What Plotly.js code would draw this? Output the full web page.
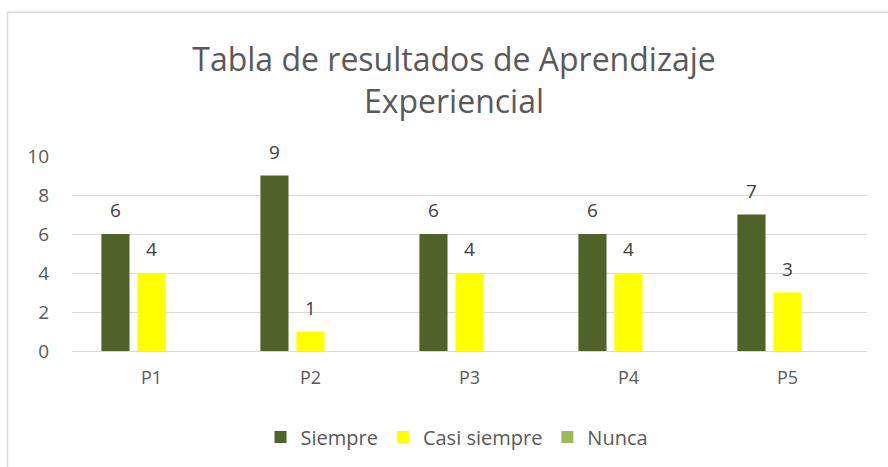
<!DOCTYPE html>
<html>
<head>
<meta charset="utf-8">
<script src="https://cdn.plot.ly/plotly-3.0.1.min.js"></script>
<style>
  html, body { margin: 0; padding: 0; background: #fff; }
  #chart { width: 888px; height: 467px; }
</style>
</head>
<body>
<div id="chart"></div>
<script>
const categories = ["P1", "P2", "P3", "P4", "P5"];
const siempre = [6, 9, 6, 6, 7];
const casiSiempre = [4, 1, 4, 4, 3];
const nunca = [null, null, null, null, null];
const seriesNames = ["Siempre", "Casi siempre", "Nunca"];
const seriesColors = ["#4F6228", "#FFFF00", "#9BBB59"];
const yTicks = [0, 2, 4, 6, 8, 10];

const FONT = "Open Sans, sans-serif";
const allSeries = [siempre, casiSiempre, nunca];

const traces = allSeries.map((vals, i) => ({
  type: "bar",
  name: seriesNames[i],
  x: categories,
  y: vals,
  marker: { color: seriesColors[i], line: { width: 0 } },
  hoverinfo: "skip"
}));

// data labels above bars
const slotPx = 36;
const annotations = [];
allSeries.forEach((vals, i) => {
  vals.forEach((v, j) => {
    if (v === null || v === undefined) return;
    annotations.push({
      x: categories[j], y: v, xref: "x", yref: "y",
      text: String(v), showarrow: false,
      xshift: (i - 1) * slotPx, yshift: 24,
      xanchor: "center", yanchor: "middle",
      font: { family: FONT, size: 19, color: "#404040" }
    });
  });
});

const plotL = 72, plotR = 867, plotT = 156, plotB = 352;
const pw = plotR - plotL, ph = plotB - plotT;
const px = v => (v - plotL) / pw;
const py = v => (plotB - v) / ph;

const layout = {
  width: 888, height: 467,
  margin: { l: plotL, r: 888 - plotR, t: plotT, b: 467 - plotB, pad: 0 },
  paper_bgcolor: "#ffffff",
  plot_bgcolor: "#ffffff",
  font: { family: FONT, color: "#595959", size: 18 },
  title: {
    text: "Tabla de resultados de Aprendizaje<br>Experiencial",
    font: { family: FONT, size: 32, color: "#595959" },
    x: 454 / 888, xref: "container", xanchor: "center",
    y: 1 - 71 / 467, yref: "container", yanchor: "top"
  },
  barmode: "group",
  bargap: 0.32,
  bargroupgap: 0.22,
  showlegend: true,
  legend: {
    orientation: "h",
    x: px(457), xanchor: "center",
    y: py(437), yanchor: "middle",
    font: { family: FONT, size: 20, color: "#595959" },
    traceorder: "normal",
    itemwidth: 30,
    itemclick: false
  },
  xaxis: {
    type: "category",
    showgrid: false, zeroline: false, showline: false,
    ticks: "", ticklabelstandoff: 14,
    tickfont: { family: FONT, size: 18, color: "#595959" },
    fixedrange: true
  },
  yaxis: {
    range: [0, 10],
    tickvals: yTicks,
    showgrid: true, gridcolor: "#D9D9D9", gridwidth: 1,
    zeroline: true, zerolinecolor: "#D9D9D9", zerolinewidth: 1,
    showline: false, ticks: "", ticklabelstandoff: 22,
    tickfont: { family: FONT, size: 19, color: "#595959" },
    fixedrange: true
  },
  annotations: annotations,
  shapes: [{
    type: "path", xref: "paper", yref: "paper",
    path: `M ${px(7.5)} ${py(470)} L ${px(7.5)} ${py(11.5)} L ${px(895)} ${py(11.5)}`,
    line: { color: "#D9D9D9", width: 1.5 },
    layer: "above"
  }]
};

Plotly.newPlot("chart", traces, layout, { displayModeBar: false, staticPlot: true });
</script>
</body>
</html>
